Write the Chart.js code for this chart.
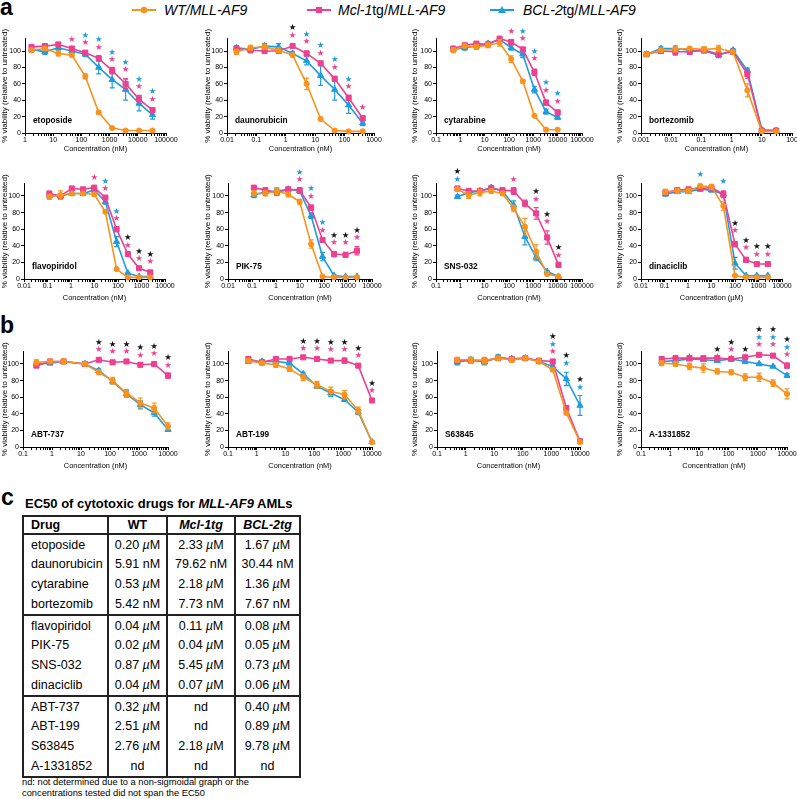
<!DOCTYPE html>
<html><head><meta charset="utf-8">
<script src="https://cdn.jsdelivr.net/npm/chart.js@4/dist/chart.umd.min.js"></script>
<style>
html,body{margin:0;padding:0;background:#fff;overflow:hidden;}
#page{position:relative;width:797px;height:799px;overflow:hidden;font-family:'Liberation Sans',Arial,Helvetica,sans-serif;color:#000;}
#page canvas{position:absolute;}
.pl{position:absolute;font-weight:bold;font-size:23px;line-height:23px;}
.leg{position:absolute;top:2.7px;font-size:14px;line-height:14px;white-space:nowrap;}
#ttl{position:absolute;left:25px;top:497px;font-size:13px;line-height:13px;font-weight:bold;white-space:nowrap;}
#tbl{position:absolute;left:22px;top:515px;border-collapse:collapse;table-layout:fixed;width:277px;font-size:12.5px;}
#tbl td,#tbl th{padding:0;border-left:2px solid #222;border-right:2px solid #222;height:20px;line-height:14px;white-space:nowrap;text-align:center;}
#tbl th{height:16px;font-weight:bold;}
#tbl td.d,#tbl th.d{text-align:left;padding-left:7px;}
#tbl tr.top td{border-top:2px solid #222;height:19px;}
#tbl tr.hd th{border-top:2px solid #222;border-bottom:2px solid #222;}
#tbl tr.last td{border-bottom:2px solid #222;}
#fn{position:absolute;left:22px;top:776.5px;font-size:9.3px;line-height:11px;white-space:nowrap;}
</style></head>
<body><div id="page">
<div class="pl" style="left:0;top:-4.5px">a</div>
<div class="pl" style="left:0;top:313.5px">b</div>
<div class="pl" style="left:1px;top:485.5px">c</div>
<svg style="position:absolute;left:0;top:0" width="797" height="22">
  <line x1="132" y1="10" x2="156" y2="10" stroke="#F7931E" stroke-width="2"/>
  <circle cx="144" cy="10" r="3.2" fill="#F7931E"/>
  <line x1="307" y1="10" x2="331" y2="10" stroke="#EC4190" stroke-width="2"/>
  <rect x="316" y="7" width="6" height="6" fill="#EC4190"/>
  <line x1="490" y1="10" x2="514" y2="10" stroke="#1F9CE0" stroke-width="2"/>
  <polygon points="502,6 506,13 498,13" fill="#1F9CE0"/>
</svg>
<div class="leg" style="left:164px"><i>WT/MLL-AF9</i></div>
<div class="leg" style="left:338px"><i>Mcl-1</i>tg/<i>MLL-AF9</i></div>
<div class="leg" style="left:523px"><i>BCL-2</i>tg/<i>MLL-AF9</i></div>
<div id="ttl">EC50 of cytotoxic drugs for <i>MLL-AF9</i> AMLs</div>
<table id="tbl"><colgroup><col style="width:85px"><col style="width:59px"><col style="width:68px"><col style="width:65px"></colgroup><tbody id="tb"></tbody></table>
<div id="fn">nd: not determined due to a non-sigmoidal graph or the<br>concentrations tested did not span the EC50</div>
</div>
<script>
// ---------------- DATA ----------------
const seriesNames = ['WT/MLL-AF9', 'Mcl-1tg/MLL-AF9', 'BCL-2tg/MLL-AF9'];

// etoposide
const etoposideConc = [1.7, 5.1, 15.2, 46, 137, 412, 1235, 3704, 11111, 33333];
const etoposideWT  = [101, 103, 97, 95, 69, 25, 6, 3, 3, 3];
const etoposideWTErr = [2, 2, 3, 2, 3, 2, 1, 1, 1, 1];
const etoposideMcl = [105, 106, 108, 103, 98, 91, 76, 60, 41, 28];
const etoposideMclErr = [2, 2, 2, 2, 2, 3, 4, 6, 5, 3];
const etoposideBcl = [102, 99, 104, 100, 96, 80, 65, 53, 36, 22];
const etoposideBclErr = [3, 3, 3, 2, 3, 8, 10, 13, 9, 5];
const etoposideStars = [[46,114,'p'],[137,110,'pb'],[412,104,'pb'],[1235,89,'pb'],[3704,77,'pb'],[11111,56,'pb'],[33333,41,'pb']];
const etoposideTicks = ['1','10','100','1000','10000','100000'];

// daunorubicin
const daunoConc = [0.021, 0.063, 0.19, 0.57, 1.7, 5.1, 15.3, 46, 137, 412];
const daunoWT  = [99, 104, 105, 101, 95, 60, 17, 3, 2, 2];
const daunoWTErr = [3, 3, 3, 3, 2, 7, 2, 1, 1, 1];
const daunoMcl = [103, 101, 100, 100, 106, 97, 85, 66, 43, 18];
const daunoMclErr = [3, 3, 3, 3, 2, 3, 2, 3, 3, 3];
const daunoBcl = [104, 102, 106, 105, 97, 88, 70, 53, 34, 12];
const daunoBclErr = [2, 3, 3, 4, 2, 5, 12, 13, 10, 3];
const daunoStars = [[1.7,119,'pk'],[5.1,111,'pb'],[15.3,97,'pb'],[46,80,'pb'],[137,56,'pb'],[412,31,'p']];
const daunoTicks = ['0.01','0.1','1','10','100','1000'];

// cytarabine
const cytaConc = [0.51, 1.52, 4.57, 13.7, 41, 123, 370, 1111, 3333, 10000];
const cytaWT  = [101, 106, 105, 107, 110, 90, 63, 21, 4, 4];
const cytaWTErr = [3, 2, 3, 3, 4, 4, 2, 1, 1, 1];
const cytaMcl = [103, 107, 109, 108, 115, 111, 102, 74, 37, 25];
const cytaMclErr = [2, 2, 2, 2, 2, 2, 2, 4, 3, 3];
const cytaBcl = [102, 104, 106, 109, 114, 104, 96, 53, 26, 19];
const cytaBclErr = [2, 3, 2, 2, 2, 3, 4, 4, 3, 2];
const cytaStars = [[123,124,'p'],[370,114.5,'pb'],[1111,90,'pb'],[3333,52,'pb'],[10000,38.6,'pb']];
const cytaTicks = ['0.1','1','10','100','1000','10000','100000'];

// bortezomib
const bortConc = [0.00152, 0.00457, 0.0137, 0.041, 0.123, 0.37, 1.11, 3.33, 10, 30];
const bortWT  = [96, 101, 102, 103, 102, 103, 99, 52, 2, 2];
const bortWTErr = [2, 2, 3, 2, 3, 4, 2, 8, 1, 1];
const bortMcl = [96, 100, 99, 99, 101, 96, 99, 72, 3, 3];
const bortMclErr = [2, 3, 4, 3, 3, 3, 2, 5, 1, 1];
const bortBcl = [96, 103, 103, 101, 100, 95, 101, 76, 4, 3];
const bortBclErr = [2, 2, 3, 2, 2, 3, 2, 3, 1, 1];
const bortStars = [];
const bortTicks = ['0.001','0.01','0.1','1','10','100'];

// flavopiridol
const flavoConc = [0.12, 0.36, 1.08, 3.24, 9.7, 29, 87, 262, 787, 2362];
const flavoWT  = [99, 101, 103, 103, 102, 81, 12, 2, 2, 2];
const flavoWTErr = [3, 5, 2, 1, 2, 2, 1, 1, 1, 1];
const flavoMcl = [103, 100, 109, 108, 110, 98, 60, 30, 13, 8];
const flavoMclErr = [2, 2, 2, 2, 2, 2, 3, 2, 1, 1];
const flavoBcl = [100, 100, 103, 103, 107, 93, 45, 7, 3, 3];
const flavoBclErr = [2, 2, 2, 2, 2, 3, 6, 1, 1, 1];
const flavoStars = [[9.7,122,'p'],[29,108.5,'pb'],[87,72,'pb'],[262,40,'pk'],[787,24,'pk'],[2362,20.5,'pk']];
const flavoTicks = ['0.01','0.1','1','10','100','1000','10000'];

// PIK-75
const pikConc = [0.12, 0.36, 1.08, 3.24, 9.7, 29, 87, 262, 787, 2362];
const pikWT  = [103, 103, 106, 102, 93, 42, 3, 2, 2, 2];
const pikWTErr = [3, 3, 4, 3, 3, 5, 1, 1, 1, 1];
const pikMcl = [110, 107, 104, 108, 107, 86, 47, 30, 29, 34];
const pikMclErr = [2, 2, 3, 2, 3, 3, 2, 3, 3, 5];
const pikBcl = [101, 105, 106, 108, 106, 76, 27, 4, 3, 3];
const pikBclErr = [3, 2, 3, 2, 3, 3, 5, 1, 1, 1];
const pikStars = [[9.7,119,'pb'],[29,99,'pb'],[87,58.5,'pb'],[262,43.5,'pk'],[787,43.5,'pk'],[2362,49.6,'pk']];
const pikTicks = ['0.01','0.1','1','10','100','1000','10000'];

// SNS-032
const snsConc = [0.76, 2.2, 6.4, 18.5, 54, 155, 450, 1300, 3700, 10800];
const snsWT  = [108, 101, 104, 106, 103, 85, 63, 33, 6, 3];
const snsWTErr = [2, 4, 4, 3, 2, 4, 10, 8, 1, 1];
const snsMcl = [109, 106, 106, 109, 107, 106, 91, 79, 50, 17];
const snsMclErr = [2, 2, 3, 3, 2, 4, 4, 7, 8, 3];
const snsBcl = [99, 104, 106, 110, 106, 89, 51, 26, 9, 3];
const snsBclErr = [2, 2, 2, 2, 2, 5, 10, 4, 1, 1];
const snsStars = [[0.76,119.7,'bk'],[155,119.7,'p'],[1300,95.6,'pk'],[3700,68.7,'pk'],[10800,28.5,'pk']];
const snsTicks = ['0.1','1','10','100','1000','10000','100000'];

// dinaciclib
const dinaConc = [0.11, 0.35, 1.05, 3.3, 10, 32, 100, 296, 850, 2500];
const dinaWT  = [105, 106, 106, 112, 111, 88, 4, 2, 2, 2];
const dinaWTErr = [3, 3, 3, 2, 3, 5, 1, 1, 1, 1];
const dinaMcl = [104, 107, 108, 109, 110, 102, 42, 23, 18, 18];
const dinaMclErr = [2, 2, 2, 2, 2, 4, 3, 3, 2, 2];
const dinaBcl = [102, 105, 105, 108, 107, 102, 19, 4, 4, 4];
const dinaBclErr = [2, 2, 2, 2, 2, 3, 7, 1, 1, 1];
const dinaStars = [[3.3,125,'b'],[32,117,'b'],[100,58,'pk'],[296,37,'pk'],[850,29.7,'pk'],[2500,29.7,'pk']];
const dinaTicks = ['0.01','0.1','1','10','100','1000','10000'];

// ABT-737
const abt737Conc = [0.29, 0.85, 2.5, 13.7, 41, 123, 370, 1111, 3333, 10000];
const abt737WT  = [102, 103, 103, 100, 90, 80, 65, 53, 47, 25];
const abt737WTErr = [3, 2, 3, 2, 3, 4, 4, 6, 6, 4];
const abt737Mcl = [98, 103, 103, 100, 105, 102, 103, 99, 100, 86];
const abt737MclErr = [2, 2, 2, 2, 2, 2, 2, 2, 2, 3];
const abt737Bcl = [100, 101, 103, 100, 92, 79, 64, 51, 41, 21];
const abt737BclErr = [2, 2, 2, 2, 2, 3, 4, 5, 4, 2];
const abt737Stars = [[41,116.5,'pk'],[123,114.5,'pk'],[370,114.5,'pk'],[1111,110,'pk'],[3333,112,'pk'],[10000,98,'pk']];
const abt737Ticks = ['0.1','1','10','100','1000','10000'];

// ABT-199
const abt199Conc = [0.51, 1.52, 4.57, 13.7, 41, 123, 370, 1111, 3333, 10000];
const abt199WT  = [104, 101, 99, 94, 84, 75, 67, 63, 44, 6];
const abt199WTErr = [2, 2, 3, 3, 4, 4, 5, 5, 4, 1];
const abt199Mcl = [106, 102, 106, 106, 108, 106, 104, 104, 98, 56];
const abt199MclErr = [2, 2, 2, 2, 1, 2, 2, 3, 1, 2];
const abt199Bcl = [103, 103, 103, 101, 88, 73, 65, 57, 42, 6];
const abt199BclErr = [2, 2, 2, 2, 2, 2, 4, 2, 3, 1];
const abt199Stars = [[41,117.7,'pk'],[123,117.7,'pk'],[370,117,'pk'],[1111,117,'pk'],[3333,109.6,'pk'],[10000,67.5,'pk']];
const abt199Ticks = ['0.1','1','10','100','1000','10000'];

// S63845
const s638Conc = [0.51, 1.52, 4.57, 13.7, 41, 123, 370, 1111, 3333, 10000];
const s638WT  = [105, 105, 104, 107, 105, 107, 103, 93, 41, 6];
const s638WTErr = [3, 3, 4, 2, 3, 1, 3, 2, 2, 1];
const s638Mcl = [104, 104, 104, 107, 106, 107, 104, 103, 47, 7];
const s638MclErr = [2, 2, 2, 2, 2, 1, 2, 2, 3, 1];
const s638Bcl = [102, 105, 102, 108, 106, 107, 103, 97, 82, 50];
const s638BclErr = [3, 3, 3, 3, 2, 1, 2, 3, 8, 12];
const s638Stars = [[1111,114.5,'pbk'],[3333,100.4,'bk'],[10000,71.8,'bk']];
const s638Ticks = ['0.1','1','10','100','1000','10000'];

// A-1331852
const a133Conc = [0.51, 1.52, 4.57, 13.7, 41, 123, 370, 1111, 3333, 10000];
const a133WT  = [101, 100, 97, 95, 91, 90, 84, 84, 77, 64];
const a133WTErr = [3, 3, 4, 5, 3, 3, 4, 5, 4, 6];
const a133Mcl = [106, 107, 107, 107, 107, 106, 108, 111, 110, 98];
const a133MclErr = [2, 2, 2, 2, 2, 1, 2, 1, 2, 3];
const a133Bcl = [103, 104, 106, 105, 104, 106, 103, 100, 97, 86];
const a133BclErr = [2, 2, 2, 2, 2, 1, 2, 1, 1, 2];
const a133Stars = [[4.57,108.4,'p'],[41,108.4,'pk'],[123,117,'pk'],[370,108.4,'pk'],[1111,123,'pbk'],[3333,123,'pbk'],[10000,111,'pbk']];
const a133Ticks = ['0.1','1','10','100','1000','10000'];

const yTickValues = [0, 20, 40, 60, 80, 100];

// Table (panel c)
const tableHeader = ['Drug', 'WT', 'Mcl-1tg', 'BCL-2tg'];
const tableDrugs = ['etoposide','daunorubicin','cytarabine','bortezomib','flavopiridol','PIK-75','SNS-032','dinaciclib','ABT-737','ABT-199','S63845','A-1331852'];
const ec50WT  = ['0.20 µM','5.91 nM','0.53 µM','5.42 nM','0.04 µM','0.02 µM','0.87 µM','0.04 µM','0.32 µM','2.51 µM','2.76 µM','nd'];
const ec50Mcl = ['2.33 µM','79.62 nM','2.18 µM','7.73 nM','0.11 µM','0.04 µM','5.45 µM','0.07 µM','nd','nd','2.18 µM','nd'];
const ec50Bcl = ['1.67 µM','30.44 nM','1.36 µM','7.67 nM','0.08 µM','0.05 µM','0.73 µM','0.06 µM','0.40 µM','0.89 µM','9.78 µM','nd'];

// ---------------- STYLE / LAYOUT ----------------
const FONT = "'Liberation Sans', Arial, Helvetica, sans-serif";
const C_WT = '#F7931E', C_MCL = '#EC4190', C_BCL = '#1F9CE0';
const STAR_COL = {p: C_MCL, b: C_BCL, k: '#111'};
Chart.defaults.font.family = FONT;
Chart.defaults.color = '#000';

const rows = [
  {y0: 18,  t: 38.7,  b: 133, xt: 149},
  {y0: 163, t: 183.5, b: 279, xt: 298},
  {y0: 322, t: 351.5, b: 447, xt: 465.5}
];
const cols = [
  {x0: 0,   x1: 192, yt: 5},
  {x0: 202, x1: 396, yt: 208},
  {x0: 409, x1: 604, yt: 415},
  {x0: 614, x1: 812, yt: 620}
];

const charts = [
  {name:'etoposide', row:0,col:0,l:25, r:166, ticks:etoposideTicks, conc:etoposideConc, wt:[etoposideWT,etoposideWTErr], mcl:[etoposideMcl,etoposideMclErr], bcl:[etoposideBcl,etoposideBclErr], stars:etoposideStars, unit:'nM'},
  {name:'daunorubicin', row:0,col:1,l:227,r:374, ticks:daunoTicks, conc:daunoConc, wt:[daunoWT,daunoWTErr], mcl:[daunoMcl,daunoMclErr], bcl:[daunoBcl,daunoBclErr], stars:daunoStars, unit:'nM'},
  {name:'cytarabine', row:0,col:2,l:436,r:582, ticks:cytaTicks, conc:cytaConc, wt:[cytaWT,cytaWTErr], mcl:[cytaMcl,cytaMclErr], bcl:[cytaBcl,cytaBclErr], stars:cytaStars, unit:'nM'},
  {name:'bortezomib', row:0,col:3,l:641,r:792, ticks:bortTicks, conc:bortConc, wt:[bortWT,bortWTErr], mcl:[bortMcl,bortMclErr], bcl:[bortBcl,bortBclErr], stars:bortStars, unit:'nM'},
  {name:'flavopiridol', row:1,col:0,l:24, r:165, ticks:flavoTicks, conc:flavoConc, wt:[flavoWT,flavoWTErr], mcl:[flavoMcl,flavoMclErr], bcl:[flavoBcl,flavoBclErr], stars:flavoStars, unit:'nM'},
  {name:'PIK-75', row:1,col:1,l:228,r:372, ticks:pikTicks, conc:pikConc, wt:[pikWT,pikWTErr], mcl:[pikMcl,pikMclErr], bcl:[pikBcl,pikBclErr], stars:pikStars, unit:'nM'},
  {name:'SNS-032', row:1,col:2,l:436,r:582, ticks:snsTicks, conc:snsConc, wt:[snsWT,snsWTErr], mcl:[snsMcl,snsMclErr], bcl:[snsBcl,snsBclErr], stars:snsStars, unit:'nM'},
  {name:'dinaciclib', row:1,col:3,l:641,r:782, ticks:dinaTicks, conc:dinaConc, wt:[dinaWT,dinaWTErr], mcl:[dinaMcl,dinaMclErr], bcl:[dinaBcl,dinaBclErr], stars:dinaStars, unit:'µM'},
  {name:'ABT-737', row:2,col:0,l:23, r:168, ticks:abt737Ticks, conc:abt737Conc, wt:[abt737WT,abt737WTErr], mcl:[abt737Mcl,abt737MclErr], bcl:[abt737Bcl,abt737BclErr], stars:abt737Stars, unit:'nM'},
  {name:'ABT-199', row:2,col:1,l:228,r:372, ticks:abt199Ticks, conc:abt199Conc, wt:[abt199WT,abt199WTErr], mcl:[abt199Mcl,abt199MclErr], bcl:[abt199Bcl,abt199BclErr], stars:abt199Stars, unit:'nM'},
  {name:'S63845', row:2,col:2,l:437,r:580, ticks:s638Ticks, conc:s638Conc, wt:[s638WT,s638WTErr], mcl:[s638Mcl,s638MclErr], bcl:[s638Bcl,s638BclErr], stars:s638Stars, unit:'nM'},
  {name:'A-1331852', row:2,col:3,l:641,r:787, ticks:a133Ticks, conc:a133Conc, wt:[a133WT,a133WTErr], mcl:[a133Mcl,a133MclErr], bcl:[a133Bcl,a133BclErr], stars:a133Stars, unit:'nM'}
];

// ---------------- PLUGINS ----------------
const errorBars = {
  id: 'errorBars',
  afterDatasetDraw(chart, args) {
    const ds = chart.data.datasets[args.index];
    if (!ds.errors) return;
    const ctx = chart.ctx, ys = chart.scales.y;
    ctx.save();
    ctx.strokeStyle = ds.borderColor; ctx.lineWidth = 1.2;
    args.meta.data.forEach((pt, i) => {
      const v = ds.data[i].y, e = ds.errors[i];
      if (!e) return;
      const y1 = ys.getPixelForValue(v + e), y2 = ys.getPixelForValue(v - e), x = pt.x;
      ctx.beginPath();
      ctx.moveTo(x, y1); ctx.lineTo(x, y2);
      ctx.moveTo(x - 2.5, y1); ctx.lineTo(x + 2.5, y1);
      ctx.moveTo(x - 2.5, y2); ctx.lineTo(x + 2.5, y2);
      ctx.stroke();
    });
    ctx.restore();
  }
};
Chart.register(errorBars);

function makeDs(label, conc, pair, color, style, radius) {
  return {
    label, data: conc.map((x, i) => ({x, y: pair[0][i]})), errors: pair[1],
    borderColor: color, backgroundColor: color, pointBackgroundColor: color, pointBorderColor: color,
    pointStyle: style, pointRadius: radius, pointBorderWidth: 1, borderWidth: 1.6,
    tension: 0, clip: false, fill: false
  };
}

const page = document.getElementById('page');
const XT_SIZE = 7.4, YT_SIZE = 8;
const LHX = XT_SIZE * 1.2, LHY = YT_SIZE * 1.2;

charts.forEach(spec => {
  const row = rows[spec.row], col = cols[spec.col];
  const height = Math.ceil(row.xt + LHX / 2 + 1 - row.y0);
  const width = col.x1 - col.x0;
  const cv = document.createElement('canvas');
  cv.width = width; cv.height = height;
  cv.style.left = col.x0 + 'px'; cv.style.top = row.y0 + 'px';
  cv.style.width = width + 'px'; cv.style.height = height + 'px';
  page.appendChild(cv);
  const padL = Math.max(0, col.yt - LHY / 2 - col.x0);
  const padT = row.t - row.y0;
  const padR = col.x1 - spec.r;
  const padB = height - (row.xt + LHX / 2 - row.y0);
  const yW = spec.l - col.x0 - padL;
  const xH = (row.xt + LHX / 2) - row.b;

  const tmin = +spec.ticks[0], tmax = +spec.ticks[spec.ticks.length - 1];
  const e0 = Math.round(Math.log10(tmin)), e1 = Math.round(Math.log10(tmax));
  const tickVals = [];
  for (let k = e0; k <= e1; k++) {
    for (let d = 1; d <= 9; d++) {
      const v = Number((d * Math.pow(10, k)).toPrecision(12));
      if (v <= tmax * 1.0000001) tickVals.push(v);
      if (k === e1) break;
    }
  }
  const labelFor = v => {
    for (const t of spec.ticks) if (Math.abs(v / +t - 1) < 1e-9) return t;
    return '';
  };

  const annot = {
    id: 'annot' + spec.name,
    afterDraw(chart) {
      const ctx = chart.ctx, xs = chart.scales.x, ys = chart.scales.y, ca = chart.chartArea;
      ctx.save();
      ctx.font = '8.5px "DejaVu Sans"';
      ctx.textAlign = 'center'; ctx.textBaseline = 'middle';
      spec.stars.forEach(([xv, yv, codes]) => {
        const px = xs.getPixelForValue(xv), py = ys.getPixelForValue(yv);
        [...codes].forEach((c, i) => { ctx.fillStyle = STAR_COL[c]; ctx.fillText('★', px, py - i * 7.5); });
      });
      ctx.font = 'bold 8.3px ' + FONT;
      ctx.textAlign = 'left'; ctx.fillStyle = '#000';
      ctx.fillText(spec.name, ca.left + 8, ca.bottom - 12);
      ctx.restore();
    }
  };

  new Chart(cv, {
    type: 'line',
    data: {
      datasets: [
        makeDs(seriesNames[0], spec.conc, spec.wt, C_WT, 'circle', 2.6),
        makeDs(seriesNames[1], spec.conc, spec.mcl, C_MCL, 'rect', 3.6),
        makeDs(seriesNames[2], spec.conc, spec.bcl, C_BCL, 'triangle', 3.6)
      ]
    },
    options: {
      responsive: false, animation: false, events: [],
      devicePixelRatio: 1,
      layout: {padding: {left: padL, top: padT, right: padR, bottom: padB}},
      plugins: {legend: {display: false}, tooltip: {enabled: false}},
      scales: {
        x: {
          type: 'logarithmic', min: tmin, max: tmax,
          afterBuildTicks: s => { s.ticks = tickVals.map(v => ({value: v})); },
          afterFit: s => { s.height = xH; },
          ticks: {autoSkip: false, maxRotation: 0, minRotation: 0, padding: 0, font: {size: 7}, color: '#000',
                  callback: v => labelFor(v)},
          grid: {display: true, drawOnChartArea: false, drawTicks: true, tickLength: 3, tickColor: '#000', tickWidth: 1},
          border: {display: true, color: '#000', width: 1},
          title: {display: true, text: 'Concentration (' + spec.unit + ')', font: {size: XT_SIZE}, padding: 0, color: '#000'}
        },
        y: {
          type: 'linear', min: 0, max: 115,
          afterBuildTicks: s => { s.ticks = yTickValues.map(v => ({value: v})); },
          afterFit: s => { s.width = yW; },
          ticks: {padding: 1, font: {size: 7}, color: '#000', includeBounds: false},
          grid: {display: true, drawOnChartArea: false, drawTicks: true, tickLength: 3, tickColor: '#000', tickWidth: 1},
          border: {display: true, color: '#000', width: 1},
          title: {display: true, text: '% viability (relative to untreated)', font: {size: YT_SIZE}, padding: 0, color: '#000'}
        }
      }
    },
    plugins: [annot]
  });
});

// ---------------- TABLE ----------------
const tb = document.getElementById('tb');
const fmt = s => s.replace('µM', '<i>µ</i>M');
let html = '<tr class="hd"><th class="d">' + tableHeader[0] + '</th><th>' + tableHeader[1] +
  '</th><th><i>' + tableHeader[2] + '</i></th><th><i>' + tableHeader[3] + '</i></th></tr>';
tableDrugs.forEach((d, i) => {
  const cls = (i % 4 === 0 ? 'top' : '') + (i === tableDrugs.length - 1 ? ' last' : '');
  html += '<tr class="' + cls + '"><td class="d">' + d + '</td><td>' + fmt(ec50WT[i]) + '</td><td>' +
    fmt(ec50Mcl[i]) + '</td><td>' + fmt(ec50Bcl[i]) + '</td></tr>';
});
tb.innerHTML = html;
</script>
</body></html>
